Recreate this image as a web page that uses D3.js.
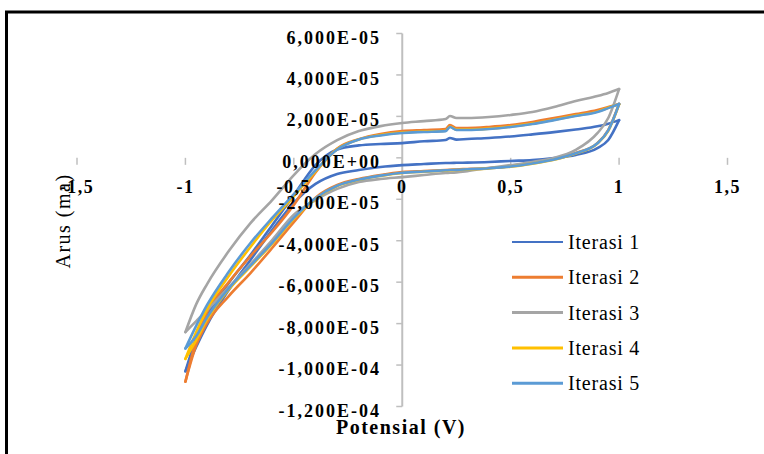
<!DOCTYPE html>
<html><head><meta charset="utf-8">
<script src="https://cdn.jsdelivr.net/npm/d3@7"></script>
<style>body{margin:0;background:#fff}svg{display:block}</style>
</head><body><svg id="c" width="764" height="454"></svg>
<script>
// Potential grid (V)
const potential = [-1,-0.95,-0.9,-0.8,-0.7,-0.6,-0.5,-0.4,-0.3,-0.2,-0.1,0,0.1,0.2,0.22,0.25,0.3,0.4,0.5,0.6,0.7,0.8,0.9,0.95,1];
// Currents in units of 1E-05 (upper = higher-current branch, lower = return branch)
const iter1Upper = [-10.3,-8.7,-7.6,-6.04,-4.69,-3.25,-1.8,-0.35,0.4,0.6,0.67,0.71,0.8,0.86,0.96,0.88,0.91,0.96,1.03,1.13,1.24,1.37,1.52,1.65,1.82];
const iter1Lower = [-10.3,-9.12,-8.06,-6.38,-4.93,-3.49,-2.18,-1.26,-0.78,-0.59,-0.44,-0.35,-0.3,-0.25,-0.25,-0.24,-0.23,-0.2,-0.15,-0.11,-0.01,0.14,0.47,0.86,1.82];
const iter2Upper = [-10.8,-8.8,-7.45,-6.0,-4.74,-3.58,-2.27,-0.7,0.45,0.9,1.15,1.29,1.34,1.39,1.58,1.44,1.44,1.49,1.58,1.73,1.92,2.11,2.31,2.45,2.6];
const iter2Lower = [-10.8,-9.04,-7.97,-6.67,-5.56,-4.35,-3.1,-1.92,-1.31,-1.02,-0.83,-0.69,-0.64,-0.59,-0.58,-0.56,-0.54,-0.49,-0.4,-0.25,-0.06,0.23,0.71,1.34,2.6];
const iter3Upper = [-8.41,-7.06,-6.09,-4.5,-3.15,-2.04,-0.83,0.18,0.85,1.29,1.53,1.68,1.77,1.87,2.02,1.92,1.92,1.97,2.07,2.21,2.45,2.74,2.98,3.13,3.32];
const iter3Lower = [-8.41,-7.88,-7.35,-6.24,-5.13,-3.97,-2.75,-2.04,-1.5,-1.17,-1.02,-0.93,-0.83,-0.73,-0.72,-0.7,-0.64,-0.49,-0.35,-0.2,-0.01,0.38,1.19,1.92,3.32];
const iter4Upper = [-9.7,-8.4,-7.3,-5.7,-4.3,-3.0,-1.85,-0.65,0.42,0.89,1.1,1.22,1.27,1.31,1.5,1.36,1.36,1.41,1.51,1.65,1.84,2.04,2.23,2.42,2.58];
const iter4Lower = [-9.7,-8.8,-7.8,-6.35,-5.25,-4.15,-2.95,-1.97,-1.36,-1.06,-0.87,-0.73,-0.67,-0.61,-0.6,-0.59,-0.56,-0.51,-0.43,-0.28,-0.09,0.21,0.69,1.3,2.58];
const iter5Upper = [-9.2,-8.1,-7.1,-5.5,-4.11,-2.9,-1.75,-0.6,0.4,0.88,1.08,1.2,1.25,1.29,1.49,1.34,1.34,1.39,1.49,1.63,1.82,2.02,2.21,2.4,2.6];
const iter5Lower = [-9.2,-8.6,-7.7,-6.3,-5.2,-4.1,-2.9,-1.95,-1.35,-1.05,-0.86,-0.72,-0.66,-0.6,-0.59,-0.58,-0.55,-0.5,-0.42,-0.27,-0.08,0.22,0.7,1.32,2.6];

const seriesNames = ["Iterasi 1","Iterasi 2","Iterasi 3","Iterasi 4","Iterasi 5"];
const seriesColors = ["#4472C4","#ED7D31","#A5A5A5","#FFC000","#5B9BD5"];
const uppers = [iter1Upper, iter2Upper, iter3Upper, iter4Upper, iter5Upper];
const lowers = [iter1Lower, iter2Lower, iter3Lower, iter4Lower, iter5Lower];

const xTicks = [-1.5,-1,-0.5,0,0.5,1,1.5];
const xTickLabels = ["-1,5","-1","-0,5","0","0,5","1","1,5"];
const yTicks = [6,4,2,0,-2,-4,-6,-8,-10,-12];
const yTickLabels = ["6,000E-05","4,000E-05","2,000E-05","0,000E+00","-2,000E-05","-4,000E-05","-6,000E-05","-8,000E-05","-1,000E-04","-1,200E-04"];

const svg = d3.select("#c");
svg.append("rect").attr("width",764).attr("height",454).attr("fill","#fff");
// frame
svg.append("rect").attr("x",6.5).attr("y",12).attr("width",900).attr("height",600)
  .attr("fill","none").attr("stroke","#000").attr("stroke-width",3);

const x = d3.scaleLinear().domain([-1.5,1.5]).range([77,727.5]);
const y = d3.scaleLinear().domain([-12,6]).range([406.5,33.5]);
const x0 = x(0), y0 = y(0);

// y axis line
svg.append("line").attr("x1",x0).attr("x2",x0).attr("y1",y(6)).attr("y2",y(-12))
  .attr("stroke","#BFBFBF").attr("stroke-width",2);
// y ticks
svg.selectAll(".yt").data(yTicks).enter().append("line")
  .attr("x1",x0-6).attr("x2",x0).attr("y1",d=>y(d)).attr("y2",d=>y(d))
  .attr("stroke","#BFBFBF").attr("stroke-width",1.5);
// x ticks (no visible horizontal line)
svg.selectAll(".xt").data(xTicks).enter().append("line")
  .attr("x1",d=>x(d)).attr("x2",d=>x(d)).attr("y1",y0).attr("y2",y0+7)
  .attr("stroke","#BFBFBF").attr("stroke-width",1.5);

// curves
const line = d3.line().x((d)=>x(d[0])).y(d=>y(d[1])).curve(d3.curveMonotoneX);
const g = svg.append("g").attr("fill","none").attr("stroke-width",2.6).attr("stroke-linejoin","round").attr("stroke-linecap","round");
uppers.forEach((u,i)=>{
  const up = potential.map((v,k)=>[v,u[k]]);
  const lo = potential.map((v,k)=>[v,lowers[i][k]]);
  g.append("path").attr("d",line(up)).attr("stroke",seriesColors[i]);
  g.append("path").attr("d",line(lo)).attr("stroke",seriesColors[i]);
});

// tick labels
const ff = "'Liberation Serif','Times New Roman',serif";
svg.selectAll(".yl").data(yTicks).enter().append("text")
  .attr("x",381).attr("y",d=>y(d)+10).attr("text-anchor","end")
  .attr("font-family",ff).attr("font-size",18).attr("font-weight","bold")
  .attr("letter-spacing","2px").attr("fill","#000")
  .text((d,i)=>yTickLabels[i]);
svg.selectAll(".xl").data(xTicks).enter().append("text")
  .attr("x",d=>x(d)).attr("y",y0+35).attr("text-anchor","middle")
  .attr("font-family",ff).attr("font-size",18).attr("font-weight","bold")
  .attr("letter-spacing","1.5px").attr("fill","#000")
  .text((d,i)=>xTickLabels[i]);

// axis titles
svg.append("text").attr("x",401).attr("y",434).attr("text-anchor","middle")
  .attr("font-family",ff).attr("font-size",20).attr("font-weight","bold")
  .attr("letter-spacing","1.5px").text("Potensial (V)");
svg.append("text").attr("transform","translate(70,221) rotate(-90)").attr("text-anchor","middle")
  .attr("font-family",ff).attr("font-size",20).attr("letter-spacing","1.5px").text("Arus (ma)");

// legend
const lg = svg.append("g");
seriesNames.forEach((n,i)=>{
  const yy = 242 + i*35.3;
  lg.append("line").attr("x1",512).attr("x2",563).attr("y1",yy).attr("y2",yy)
    .attr("stroke",seriesColors[i]).attr("stroke-width",i===0?2.2:3);
  lg.append("text").attr("x",568).attr("y",yy+7).attr("font-family",ff).attr("font-size",20)
    .attr("letter-spacing","0.8px").text(n);
});
</script></body></html>
